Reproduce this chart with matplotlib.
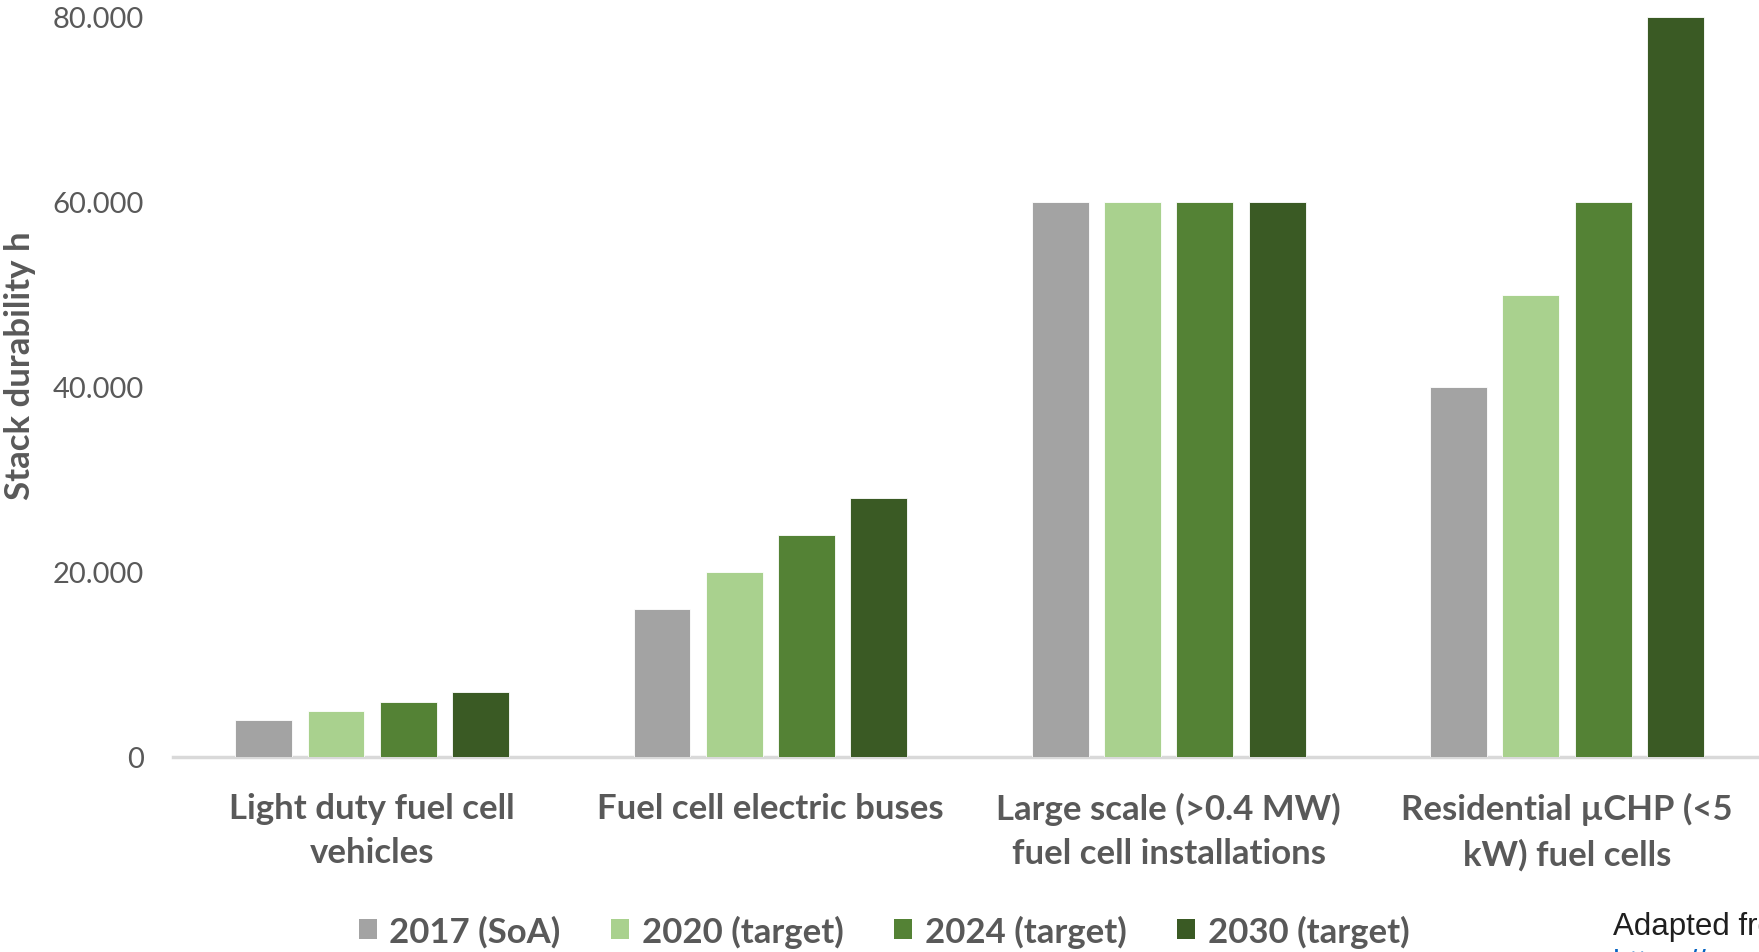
import matplotlib
matplotlib.use("Agg")
import matplotlib.pyplot as plt
from matplotlib.patches import Patch
import numpy as np

categories = [
    "Light duty fuel cell\nvehicles",
    "Fuel cell electric buses",
    "Large scale (>0.4 MW)\nfuel cell installations",
    "Residential \u00b5CHP (<5\nkW) fuel cells",
]
series_names = ["2017 (SoA)", "2020 (target)", "2024 (target)", "2030 (target)"]
durability = {
    "2017 (SoA)":    [4000, 16000, 60000, 40000],
    "2020 (target)": [5000, 20000, 60000, 50000],
    "2024 (target)": [6000, 24000, 60000, 60000],
    "2030 (target)": [7000, 28000, 60000, 80000],
}
y_ticks = [0, 20000, 40000, 60000, 80000]
y_tick_labels = ["0", "20.000", "40.000", "60.000", "80.000"]
colors = ["#A3A3A3", "#A9D18E", "#548235", "#3A5A24"]
text_gray = "#595959"

plt.rcParams["font.family"] = ["Lato", "DejaVu Sans"]

W, H = 1759, 953
fig = plt.figure(figsize=(W / 100, H / 100), dpi=100)
ax = fig.add_axes([173 / W, 1 - 758 / H, (W - 173) / W, (758 - 18) / H])

x = np.arange(len(categories))
pitch = 0.1815
width = 0.143
for i, name in enumerate(series_names):
    ax.bar(x + (i - 1.5) * pitch, durability[name], width=width,
           color=colors[i], edgecolor="white", linewidth=0.6, zorder=2)

ax.set_xlim(-0.5, -0.5 + (W - 173) / 398.3)
ax.set_ylim(0, 80000)
ax.set_yticks(y_ticks)
ax.set_yticklabels(y_tick_labels, fontsize=21, color=text_gray)
ax.set_xticks(x)
ax.set_xticklabels(categories, fontsize=25, fontweight="bold",
                   color=text_gray, linespacing=1.48)
ax.tick_params(axis="y", length=0, pad=21)
ax.tick_params(axis="x", length=0, pad=25)

for side in ["top", "right", "left"]:
    ax.spines[side].set_visible(False)
ax.spines["bottom"].set_color("#D9D9D9")
ax.spines["bottom"].set_linewidth(2.5)
ax.spines["bottom"].set_zorder(1)

ax.set_ylabel("Stack durability h", fontsize=25, fontweight="bold",
              color=text_gray, va="center")
ax.yaxis.set_label_coords(-(173 - 20) / (W - 173), (758 - 366) / (758 - 18))

handles = [Patch(facecolor=c, edgecolor="none") for c in colors]
leg = fig.legend(handles, series_names, loc="center",
                 bbox_to_anchor=(884 / W, 1 - 932 / H), ncol=4, frameon=False,
                 prop={"size": 25, "weight": "bold"},
                 handlelength=0.52, handleheight=0.52, handletextpad=0.35,
                 columnspacing=1.47)
for t in leg.get_texts():
    t.set_color(text_gray)

note_font = ["Liberation Sans", "DejaVu Sans"]
fig.text(1613 / W, 1 - 935 / H, "Adapted from", fontsize=22.5,
         family=note_font, color="#1F1F1F", ha="left", va="baseline")
fig.text(1613 / W, 1 - 972 / H, "https://www.fch.europa.eu", fontsize=22.5,
         family=note_font, color="#0563C1", ha="left", va="baseline")

fig.savefig("out.png", dpi=100)
